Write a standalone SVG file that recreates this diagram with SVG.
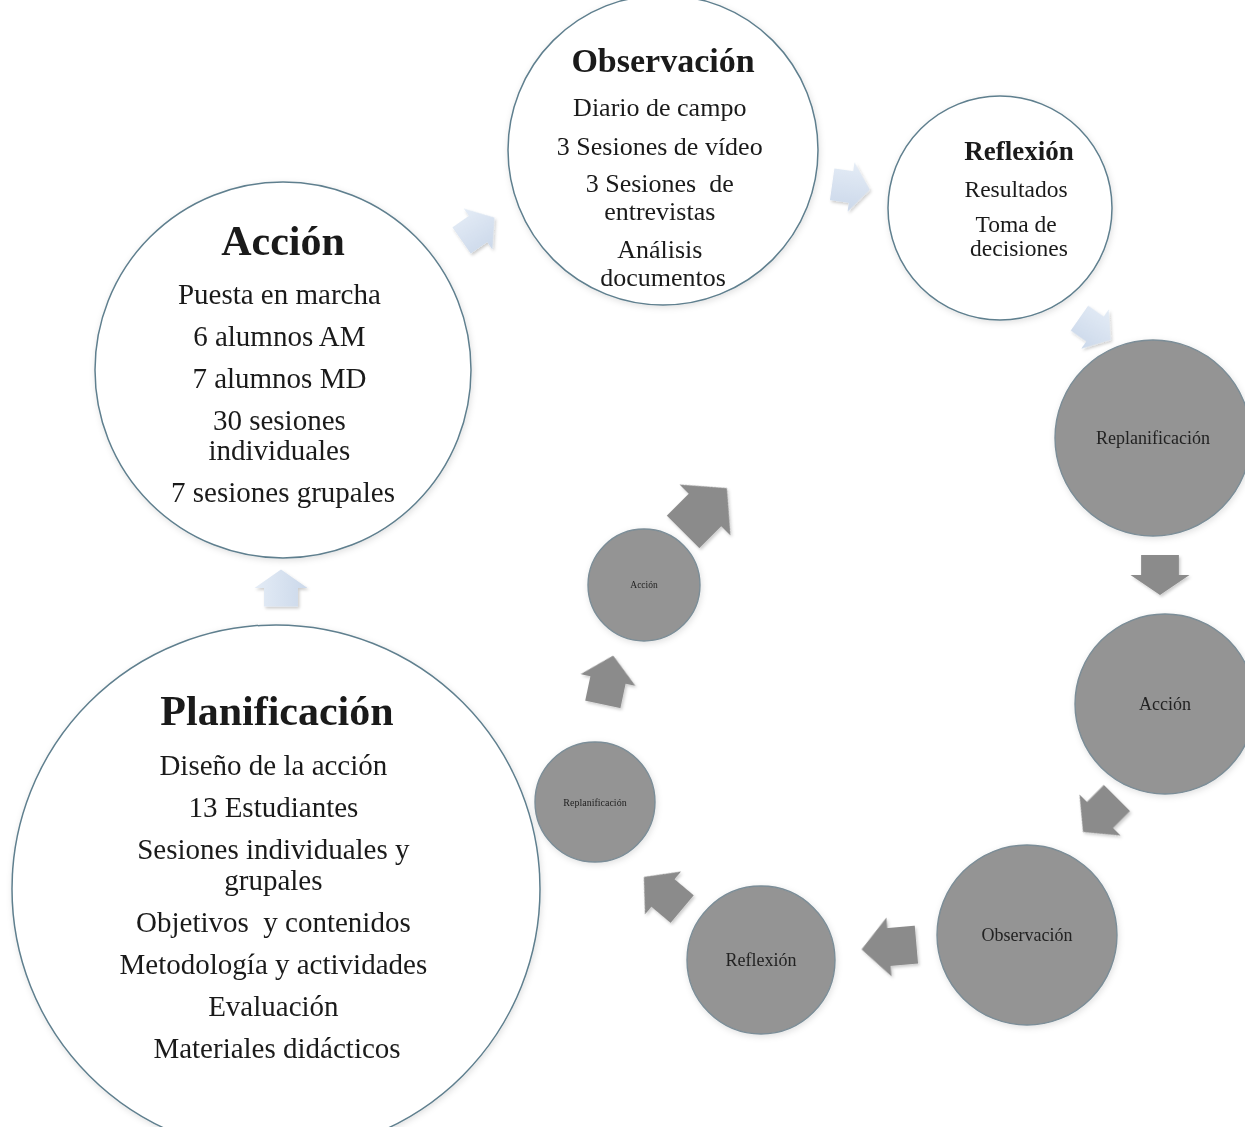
<svg xmlns="http://www.w3.org/2000/svg" width="1245" height="1127" viewBox="0 0 1245 1127">
  <style>
    .main { fill: #ffffff; stroke: #5f7f8e; stroke-width: 1.5; }
    .sub { fill: #949494; stroke: #7b8d97; stroke-width: 1.4; }
    .ttl { font-family: "Liberation Serif", "Times New Roman", serif; font-weight: bold; fill: #1a1a1a; text-anchor: middle; }
    .txt { font-family: "Liberation Serif", "Times New Roman", serif; fill: #1a1a1a; text-anchor: middle; }
    .lbl { font-family: "Liberation Serif", "Times New Roman", serif; fill: #222222; text-anchor: middle; }
    .pale { fill: url(#paleFill); }
    .dark { fill: #8b8b8b; }
  </style>
  <defs>
    <linearGradient id="paleFill" x1="0" y1="0" x2="0" y2="1">
      <stop offset="0" stop-color="#e4ecf6"/>
      <stop offset="1" stop-color="#cbd8ea"/>
    </linearGradient>
    <filter id="soft" x="-10%" y="-10%" width="120%" height="120%">
      <feDropShadow dx="1.5" dy="2" stdDeviation="1.5" flood-color="#000000" flood-opacity="0.2"/>
    </filter>
    <filter id="halo" x="-10%" y="-10%" width="120%" height="120%">
      <feDropShadow dx="1" dy="2" stdDeviation="3" flood-color="#000000" flood-opacity="0.12"/>
    </filter>
    <!-- unit block arrow pointing +x, from x=-1 to x=1 and y=-0.5 to 0.5 -->
    <path id="arrow" d="M-1,-0.32 H0 V-0.5 L1,0 L0,0.5 V0.32 H-1 Z"/>
  </defs>

  <!-- connectors: block arrows (shadow applied on the unscaled groups) -->
  <g id="connectors">
    <g class="pale" filter="url(#soft)">
      <use href="#arrow" transform="translate(281,588) rotate(-90) scale(18.5,53)"/>
      <use href="#arrow" transform="translate(478,229) rotate(-35) scale(20,50)"/>
      <use href="#arrow" transform="translate(851,187) rotate(8) scale(19,50)"/>
      <use href="#arrow" transform="translate(1095,329) rotate(35) scale(19,48)"/>
    </g>
    <g class="dark" filter="url(#soft)">
      <use href="#arrow" transform="translate(1160,575) rotate(90) scale(20,59)"/>
      <use href="#arrow" transform="translate(1100,815) rotate(135) scale(24,58)"/>
      <use href="#arrow" transform="translate(889,947) rotate(175) scale(27.5,59)"/>
      <use href="#arrow" transform="translate(663,893) rotate(-140) scale(25,56)"/>
      <use href="#arrow" transform="translate(608,680) rotate(-78) scale(25,56)"/>
      <use href="#arrow" transform="translate(705,510) rotate(-45) scale(31,72)"/>
    </g>
  </g>

  <!-- inner cycle -->
  <g id="replan-1">
    <circle class="sub" cx="1153" cy="438" r="98" filter="url(#halo)"/>
    <text class="lbl" x="1153" y="444" font-size="18">Replanificación</text>
  </g>
  <g id="accion-2">
    <circle class="sub" cx="1165" cy="704" r="90" filter="url(#halo)"/>
    <text class="lbl" x="1165" y="710" font-size="18">Acción</text>
  </g>
  <g id="observacion-2">
    <circle class="sub" cx="1027" cy="935" r="90" filter="url(#halo)"/>
    <text class="lbl" x="1027" y="941" font-size="18">Observación</text>
  </g>
  <g id="reflexion-2">
    <circle class="sub" cx="761" cy="960" r="74" filter="url(#halo)"/>
    <text class="lbl" x="761" y="966" font-size="18">Reflexión</text>
  </g>
  <g id="replan-2">
    <circle class="sub" cx="595" cy="802" r="60" filter="url(#halo)"/>
    <text class="lbl" x="595" y="806" font-size="10">Replanificación</text>
  </g>
  <g id="accion-3">
    <circle class="sub" cx="644" cy="585" r="56" filter="url(#halo)"/>
    <text class="lbl" x="644" y="588" font-size="9.5">Acción</text>
  </g>

  <!-- main cycle -->
  <g id="planificacion">
    <circle class="main" cx="276" cy="889" r="264" filter="url(#halo)"/>
    <text class="ttl" x="277" y="725" font-size="42">Planificación</text>
    <text class="txt" font-size="29">
      <tspan x="277" y="775">Diseño de la acción</tspan>
      <tspan x="277" y="817">13 Estudiantes</tspan>
      <tspan x="277" y="859">Sesiones individuales y</tspan>
      <tspan x="277" y="890">grupales</tspan>
      <tspan x="277" y="932">Objetivos&#160; y contenidos</tspan>
      <tspan x="277" y="974">Metodología y actividades</tspan>
      <tspan x="277" y="1016">Evaluación</tspan>
      <tspan x="277" y="1058">Materiales didácticos</tspan>
    </text>
  </g>
  <g id="accion">
    <circle class="main" cx="283" cy="370" r="188" filter="url(#halo)"/>
    <text class="ttl" x="283" y="255" font-size="42">Acción</text>
    <text class="txt" font-size="29">
      <tspan x="283" y="304">Puesta en marcha</tspan>
      <tspan x="283" y="346">6 alumnos AM</tspan>
      <tspan x="283" y="388">7 alumnos MD</tspan>
      <tspan x="283" y="430">30 sesiones</tspan>
      <tspan x="283" y="460">individuales</tspan>
      <tspan x="283" y="502">7 sesiones grupales</tspan>
    </text>
  </g>
  <g id="observacion">
    <circle class="main" cx="663" cy="150" r="155" filter="url(#halo)"/>
    <text class="ttl" x="663" y="72" font-size="34">Observación</text>
    <text class="txt" font-size="26">
      <tspan x="663" y="116">Diario de campo</tspan>
      <tspan x="663" y="155">3 Sesiones de vídeo</tspan>
      <tspan x="663" y="192">3 Sesiones&#160; de</tspan>
      <tspan x="663" y="220">entrevistas</tspan>
      <tspan x="663" y="258">Análisis</tspan>
      <tspan x="663" y="286">documentos</tspan>
    </text>
  </g>
  <g id="reflexion">
    <circle class="main" cx="1000" cy="208" r="112" filter="url(#halo)"/>
    <text class="ttl" x="1019" y="160" font-size="27">Reflexión</text>
    <text class="txt" font-size="23.5">
      <tspan x="1019" y="197">Resultados</tspan>
      <tspan x="1019" y="232">Toma de</tspan>
      <tspan x="1019" y="256">decisiones</tspan>
    </text>
  </g>
</svg>
